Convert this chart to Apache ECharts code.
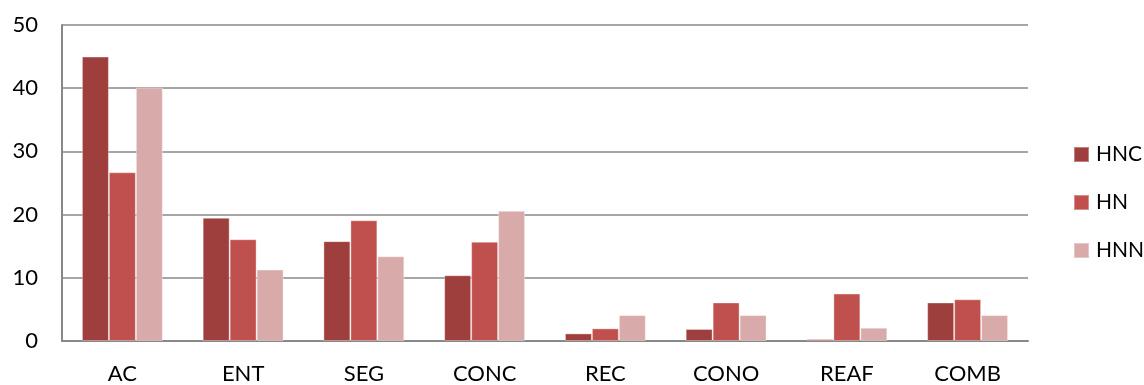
<!DOCTYPE html>
<html>
<head>
<meta charset="utf-8">
<style>
  html, body { margin: 0; padding: 0; background: #fff; }
  #chart { width: 1144px; height: 385px; }
</style>
</head>
<body>
<div id="chart"></div>
<script src="https://cdn.jsdelivr.net/npm/echarts@6/dist/echarts.min.js"></script>
<script>
    // data
    const categories = ['AC', 'ENT', 'SEG', 'CONC', 'REC', 'CONO', 'REAF', 'COMB'];
    const hncValues = [45, 19.5, 15.8, 10.4, 1.2, 1.9, 0.3, 6.1];
    const hnValues  = [26.7, 16.1, 19.1, 15.7, 2.0, 6.1, 7.5, 6.6];
    const hnnValues = [40.1, 11.3, 13.4, 20.6, 4.1, 4.1, 2.1, 4.1];
    const seriesNames = ['HNC', 'HN', 'HNN'];
    const colors = ['#9E3F3D', '#C0504D', '#D9AAAA'];

    const fontFamily = 'Lato, "Open Sans", sans-serif';

    var myChart = echarts.init(document.getElementById('chart'));

    function makeSeries(name, data, color) {
        return {
            name: name,
            type: 'bar',
            data: data,
            barGap: '0%',
            barCategoryGap: '33%',
            itemStyle: { color: color, borderColor: 'rgba(255,255,255,0.35)', borderWidth: 1 },
            animation: false
        };
    }

    var option = {
        animation: false,
        grid: { left: 62, right: 116, top: 25, bottom: 44 },
        legend: {
            orient: 'vertical',
            left: 1068,
            top: 139,
            itemWidth: 15,
            itemHeight: 15,
            itemGap: 27,
            icon: 'rect',
            textStyle: { fontFamily: fontFamily, fontSize: 21, color: '#000', padding: [0, 0, 0, 2] },
            data: seriesNames
        },
        xAxis: {
            type: 'category',
            data: categories,
            axisLine: { lineStyle: { color: '#888', width: 2 } },
            axisTick: { show: false },
            axisLabel: { color: '#000', fontFamily: fontFamily, fontSize: 22, margin: 22 }
        },
        yAxis: {
            type: 'value',
            min: 0,
            max: 50,
            interval: 10,
            axisLine: { show: true, lineStyle: { color: '#888', width: 2 } },
            axisTick: { show: false },
            axisLabel: { color: '#000', fontFamily: fontFamily, fontSize: 22, margin: 24 },
            splitLine: { lineStyle: { color: '#888', width: 1.5 } }
        },
        series: [
            makeSeries(seriesNames[0], hncValues, colors[0]),
            makeSeries(seriesNames[1], hnValues, colors[1]),
            makeSeries(seriesNames[2], hnnValues, colors[2])
        ]
    };
    option && myChart.setOption(option);
</script>
</body>
</html>
